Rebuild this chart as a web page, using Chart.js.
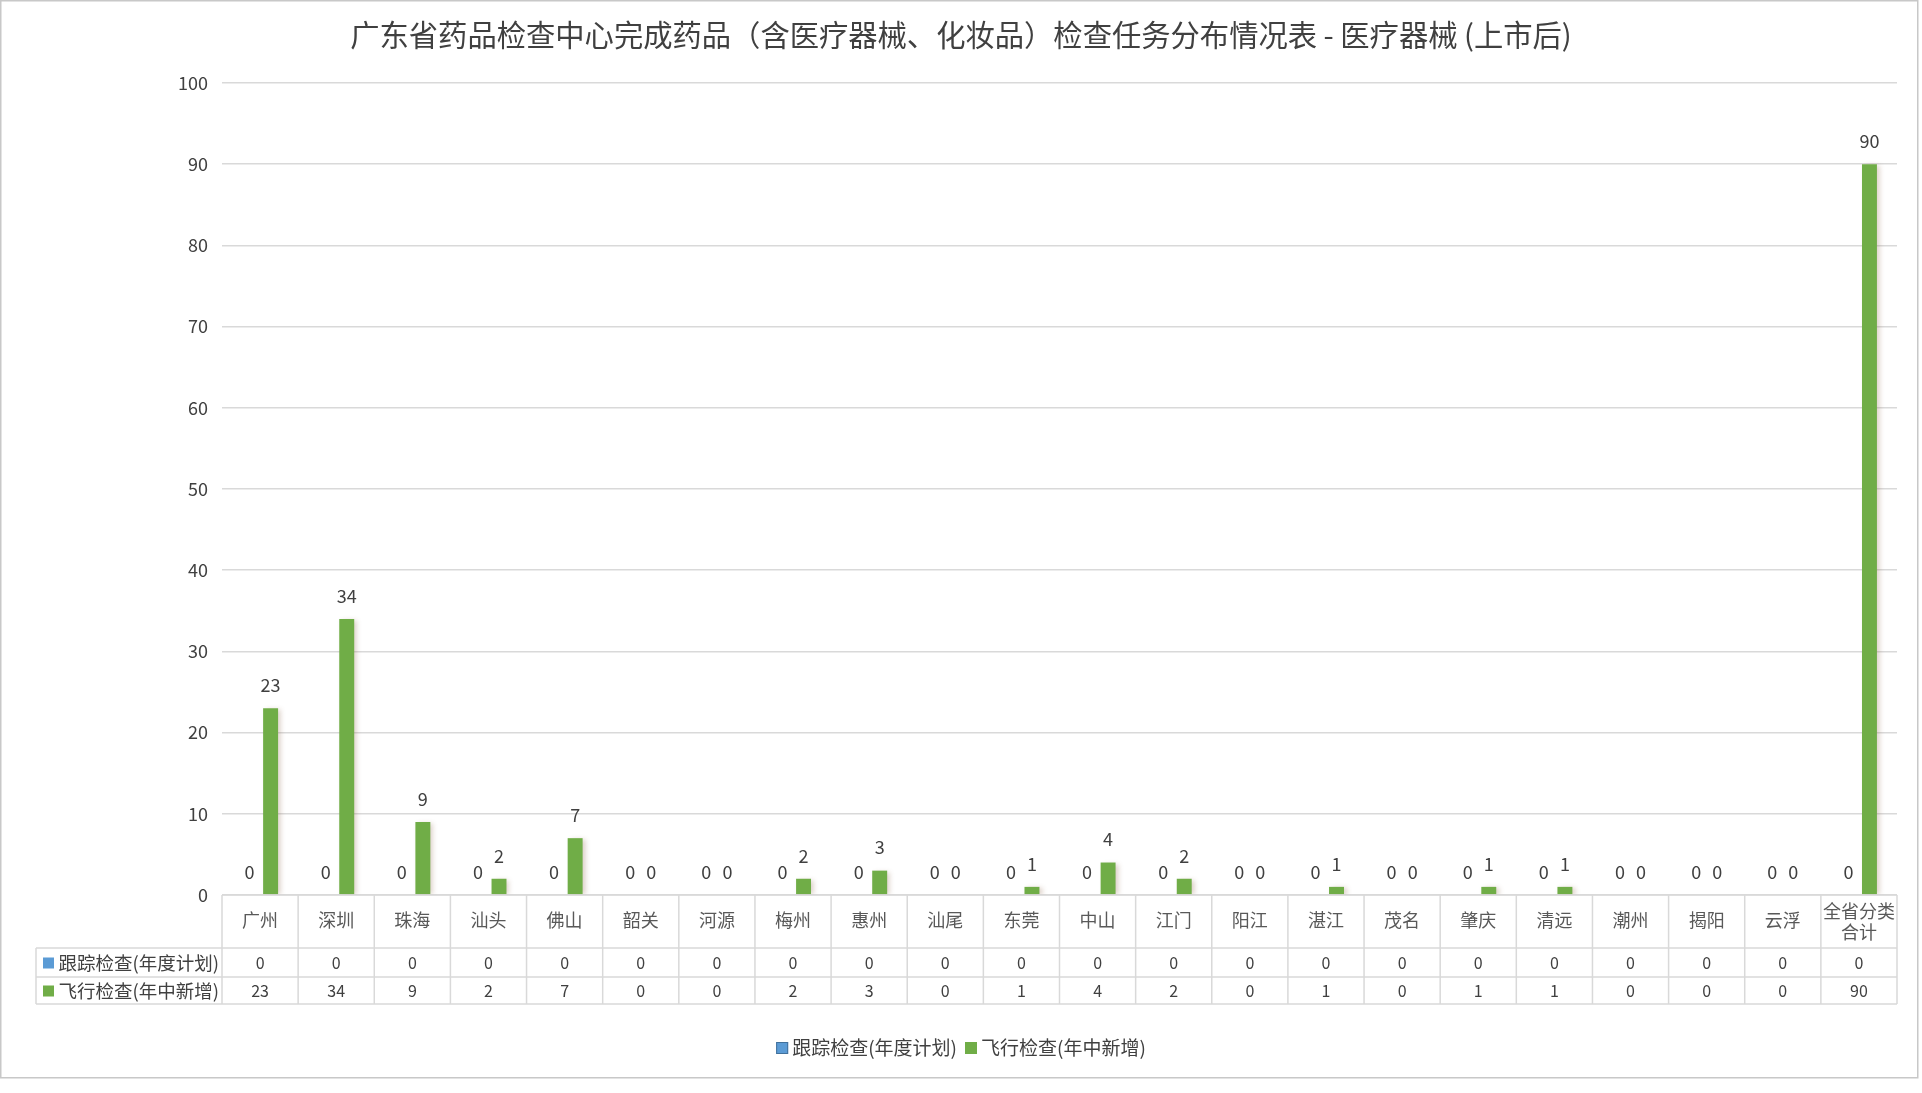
<!DOCTYPE html>
<html>
<head>
<meta charset="utf-8">
<script src="https://cdn.jsdelivr.net/npm/chart.js@4"></script>
<style>
  html, body { margin: 0; padding: 0; background: #fff; }
  #wrap { width: 1922px; height: 1093px; }
</style>
</head>
<body>
<div id="wrap"><canvas id="c" width="1922" height="1093"></canvas></div>
<script>
const chartTitle = '广东省药品检查中心完成药品（含医疗器械、化妆品）检查任务分布情况表 - 医疗器械 (上市后)';
const categories = ['广州','深圳','珠海','汕头','佛山','韶关','河源','梅州','惠州','汕尾','东莞','中山','江门','阳江','湛江','茂名','肇庆','清远','潮州','揭阳','云浮','全省分类合计'];
const seriesNames = ['跟踪检查(年度计划)', '飞行检查(年中新增)'];
const trackValues = [0,0,0,0,0,0,0,0,0,0,0,0,0,0,0,0,0,0,0,0,0,0];
const flightValues = [23,34,9,2,7,0,0,2,3,0,1,4,2,0,1,0,1,1,0,0,0,90];
const yTicks = [0,10,20,30,40,50,60,70,80,90,100];

const FONT = "'Noto Sans CJK SC', 'Noto Sans', sans-serif";
const BLUE = '#5B9BD5';
const GREEN = '#70AD47';
const GRID = '#D9D9D9';
const TEXT = '#404040';

const decor = {
  id: 'decor',
  beforeDraw(chart) {
    const ctx = chart.ctx;
    ctx.save();
    ctx.fillStyle = '#fff';
    ctx.fillRect(0, 0, chart.width, chart.height);
    ctx.strokeStyle = '#C8C8C8';
    ctx.lineWidth = 1.5;
    ctx.strokeRect(0.75, 0.75, 1917, 1077);
    // title
    ctx.fillStyle = TEXT;
    ctx.font = '29.3px ' + FONT;
    ctx.textAlign = 'center';
    ctx.textBaseline = 'middle';
    ctx.fillText(chartTitle, 961, 35);
    ctx.restore();
  },
  beforeDatasetsDraw(chart) {
    const ctx = chart.ctx;
    ctx.save();
    ctx.shadowColor = 'rgba(140,100,70,0.30)';
    ctx.shadowBlur = 5;
    ctx.shadowOffsetX = 3;
    ctx.shadowOffsetY = 1;
  },
  afterDatasetsDraw(chart) {
    const ctx = chart.ctx;
    ctx.restore();
    ctx.save();
    ctx.fillStyle = TEXT;
    ctx.font = '18px ' + FONT;
    ctx.textAlign = 'center';
    ctx.textBaseline = 'bottom';
    chart.data.datasets.forEach((ds, di) => {
      const meta = chart.getDatasetMeta(di);
      meta.data.forEach((el, i) => {
        ctx.fillText(String(ds.data[i]), el.x, el.y - 14);
      });
    });
    ctx.restore();
  },
  afterDraw(chart) {
    const ctx = chart.ctx;
    const area = chart.chartArea;
    const n = categories.length;
    const left = area.left, right = area.right;
    const colW = (right - left) / n;
    const catTop = area.bottom, catBot = 948, r1Bot = 977, r2Bot = 1004;
    const legLeft = 36;
    ctx.save();
    ctx.strokeStyle = GRID;
    ctx.lineWidth = 1.5;
    ctx.beginPath();
    ctx.moveTo(left, catTop); ctx.lineTo(right, catTop);
    [catBot, r1Bot, r2Bot].forEach(y => { ctx.moveTo(legLeft, y); ctx.lineTo(right, y); });
    for (let i = 0; i <= n; i++) {
      const x = left + i * colW;
      ctx.moveTo(x, catTop); ctx.lineTo(x, r2Bot);
    }
    ctx.moveTo(legLeft, catBot); ctx.lineTo(legLeft, r2Bot);
    ctx.stroke();

    // category labels
    ctx.font = '18px ' + FONT;
    ctx.fillStyle = '#595959';
    ctx.textAlign = 'center';
    ctx.textBaseline = 'middle';
    categories.forEach((c, i) => {
      const cx = left + (i + 0.5) * colW;
      if (ctx.measureText(c).width > colW - 2) {
        const lines = [];
        let cur = '';
        for (const ch of c) {
          if (ctx.measureText(cur + ch).width > colW - 2 && cur) { lines.push(cur); cur = ch; }
          else cur += ch;
        }
        if (cur) lines.push(cur);
        const lh = 21;
        const y0 = (catTop + catBot) / 2 - (lines.length - 1) * lh / 2;
        lines.forEach((l, k) => ctx.fillText(l, cx, y0 + k * lh));
      } else {
        ctx.fillText(c, cx, (catTop + catBot) / 2 - 1);
      }
    });

    // data rows
    const rows = [
      { name: seriesNames[0], color: BLUE, vals: trackValues, y: (catBot + r1Bot) / 2 },
      { name: seriesNames[1], color: GREEN, vals: flightValues, y: (r1Bot + r2Bot) / 2 }
    ];
    rows.forEach(r => {
      ctx.fillStyle = r.color;
      ctx.fillRect(43, r.y - 5, 11, 11);
      ctx.fillStyle = TEXT;
      ctx.font = '18.5px ' + FONT;
      ctx.textAlign = 'right';
      ctx.fillText(r.name, left - 3, r.y);
      ctx.font = '16px ' + FONT;
      ctx.textAlign = 'center';
      r.vals.forEach((v, i) => {
        ctx.fillText(String(v), left + (i + 0.5) * colW, r.y);
      });
    });

    // legend
    ctx.font = '19px ' + FONT;
    const w1 = ctx.measureText(seriesNames[0]).width;
    const w2 = ctx.measureText(seriesNames[1]).width;
    const sq = 12, g1 = 4, g2 = 8;
    const total = sq + g1 + w1 + g2 + sq + g1 + w2;
    let x = 961 - total / 2;
    const ly = 1048;
    ctx.textAlign = 'left';
    ctx.fillStyle = BLUE;
    ctx.fillRect(x, ly - sq / 2, sq, sq);
    ctx.strokeStyle = '#41719C';
    ctx.lineWidth = 1;
    ctx.strokeRect(x + 0.5, ly - sq / 2 + 0.5, sq - 1, sq - 1);
    x += sq + g1;
    ctx.fillStyle = TEXT;
    ctx.fillText(seriesNames[0], x, ly);
    x += w1 + g2;
    ctx.fillStyle = GREEN;
    ctx.fillRect(x, ly - sq / 2, sq, sq);
    x += sq + g1;
    ctx.fillStyle = TEXT;
    ctx.fillText(seriesNames[1], x, ly);
    ctx.restore();
  }
};

new Chart(document.getElementById('c'), {
  type: 'bar',
  data: {
    labels: categories,
    datasets: [
      { label: seriesNames[0], data: trackValues, backgroundColor: BLUE, borderWidth: 0, categoryPercentage: 0.553, barPercentage: 0.71 },
      { label: seriesNames[1], data: flightValues, backgroundColor: GREEN, borderWidth: 0, categoryPercentage: 0.553, barPercentage: 0.71 }
    ]
  },
  options: {
    responsive: false,
    animation: false,
    devicePixelRatio: 1,
    layout: { padding: { top: 83, bottom: 198, left: 0, right: 25 } },
    plugins: { legend: { display: false }, title: { display: false }, tooltip: { enabled: false } },
    scales: {
      x: {
        grid: { display: false, drawTicks: false },
        border: { display: false },
        ticks: { display: false },
        afterFit(s) { s.height = 0; }
      },
      y: {
        min: 0, max: 100,
        afterBuildTicks(s) { s.ticks = yTicks.map(v => ({ value: v })); },
        grid: { color: GRID, lineWidth: 1.5, drawTicks: false },
        border: { display: false },
        ticks: { padding: 14, color: TEXT, font: { size: 18, family: FONT } },
        afterFit(s) { s.width = 222; }
      }
    }
  },
  plugins: [decor]
});
</script>
</body>
</html>
